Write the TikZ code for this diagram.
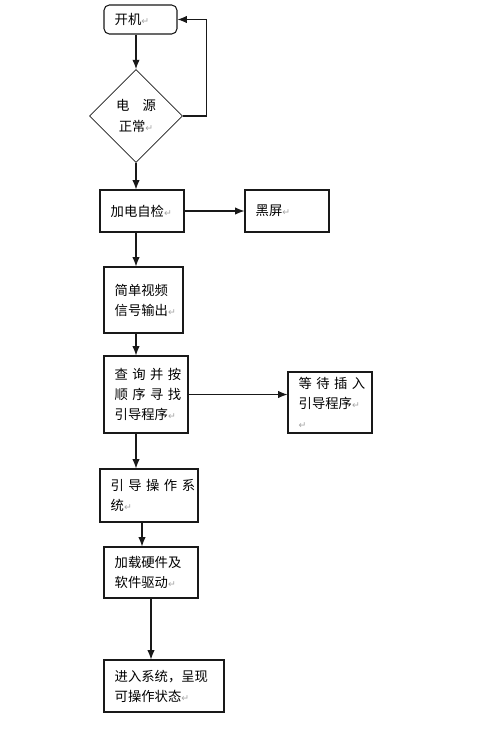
\documentclass[tikz,border=0pt]{standalone}
\usepackage{fontspec}
\newfontfamily\cjk{Noto Sans CJK SC}
\newfontfamily\markfont{DejaVu Sans}
\usepackage{xcolor}
\definecolor{markGray}{RGB}{165,165,165}
\definecolor{lineBlack}{RGB}{25,25,25}
\usepackage{tikz}
\usetikzlibrary{shapes.geometric,arrows.meta}
\newcommand{\retmark}{{\markfont\color{markGray}\fontsize{7}{7}\selectfont ↵}}
\tikzset{
  procbox/.style={draw=lineBlack, line width=0.8pt, rectangle, inner xsep=8pt, inner ysep=0pt, align=left, font=\cjk\fontsize{10}{15}\selectfont},
  decision/.style={draw=lineBlack, line width=0.6pt, diamond, aspect=1, inner sep=0pt, minimum width=69.75pt, minimum height=69.75pt, align=center, font=\cjk\fontsize{10}{16}\selectfont},
  arr/.style={draw=lineBlack, line width=0.8pt, -{Latex[length=7pt,width=5.5pt]}}
}
\begin{document}
\begin{tikzpicture}[x=0.75pt,y=-0.75pt]
\path[use as bounding box, fill=white] (0,0) rectangle (500,734);
\node[procbox, rounded corners=4pt, text width=38.75pt, minimum height=21.75pt] (start) at (140.5,19.5) {开机\retmark};
\node[decision] (dia) at (136,116) {电\quad 源\\正常\retmark};
\node[procbox, text width=47pt, minimum height=31.5pt] (post) at (142,211) {加电自检\retmark};
\node[procbox, text width=47pt, minimum height=31.5pt] (black) at (287,211) {黑屏\retmark};
\node[procbox, text width=43.25pt, minimum height=49.5pt] (video) at (143.5,300) {简单视频\\信号输出\retmark};
\node[procbox, text width=47pt, minimum height=57.75pt] (search) at (146,394.5) {查~询~并~按\\顺~序~寻~找\\引导程序\retmark};
\node[procbox, text width=47pt, minimum height=45.75pt] (wait) at (330,402.5) {等~待~插~入\\引导程序\retmark\\\retmark};
\node[procbox, text width=57.5pt, minimum height=39.75pt] (bootos) at (149,495.5) {引~导~操~作~系\\统\retmark};
\node[procbox, text width=54.5pt, minimum height=38.25pt] (driver) at (151,572.5) {加载硬件及\\软件驱动\retmark};
\node[procbox, text width=74pt, minimum height=39pt] (enter) at (164,686) {进入系统，呈现\\可操作状态\retmark};
\coordinate (spine) at (136,0);
\coordinate (spineb) at (142,0);
\draw[arr] (start.south -| spine) -- (dia.north);
\draw[arr] (dia.east) -- ++(24,0) |- (start.east);
\draw[arr] (dia.south) -- (post.north -| dia.south);
\draw[arr] (post.east) -- (black.west);
\draw[arr] (post.south -| spine) -- (video.north -| spine);
\draw[arr] (video.south -| spine) -- (search.north -| spine);
\draw[arr] (search.east) -- (search.east -| wait.west);
\draw[arr] (search.south -| spine) -- (bootos.north -| spine);
\draw[arr] (bootos.south -| spineb) -- (driver.north -| spineb);
\draw[arr] (driver.south) -- (enter.north -| driver.south);
\end{tikzpicture}
\end{document}
